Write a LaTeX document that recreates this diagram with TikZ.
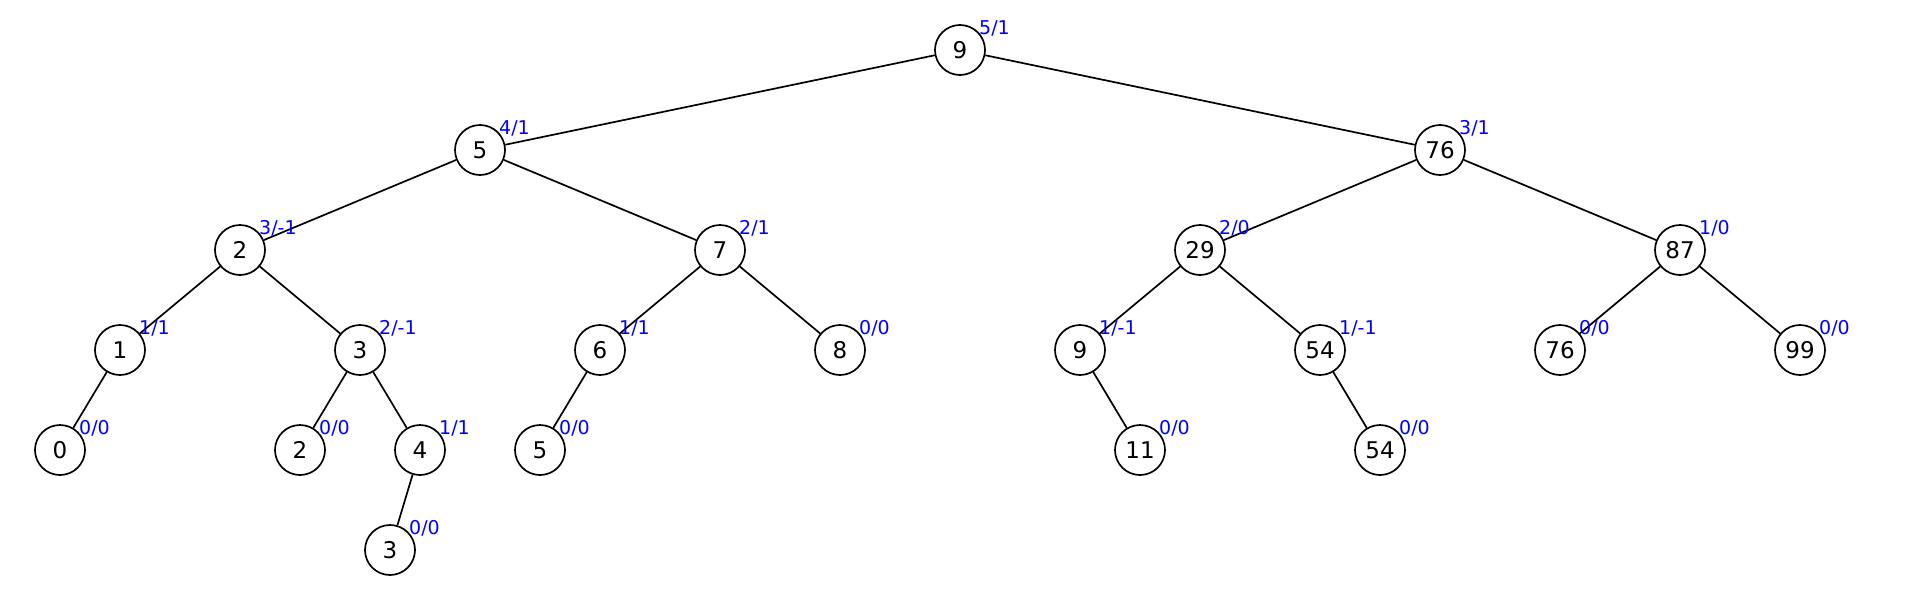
\documentclass[tikz,border=0pt]{standalone}
\usepackage{fontspec}
\setmainfont{DejaVu Sans}
\begin{document}
\begin{tikzpicture}[x=1pt,y=-1pt,
  tn/.style={circle,draw=black,line width=1.7pt,fill=white,minimum size=50pt,inner sep=0pt,font=\fontsize{23}{25}\selectfont},
  bal/.style={anchor=west,inner sep=0pt,text=blue,font=\fontsize{19}{21}\selectfont},
  edge/.style={draw=black,line width=1.7pt}]
\useasboundingbox (0,0) rectangle (1920,600);
% nodes
\node[tn] (n9) at (960,50) {9};
\node[tn] (n5) at (480,150) {5};
\node[tn] (n76) at (1440,150) {76};
\node[tn] (n2) at (240,250) {2};
\node[tn] (n7) at (720,250) {7};
\node[tn] (n29) at (1200,250) {29};
\node[tn] (n87) at (1680,250) {87};
\node[tn] (n1) at (120,350) {1};
\node[tn] (n3) at (360,350) {3};
\node[tn] (n6) at (600,350) {6};
\node[tn] (n8) at (840,350) {8};
\node[tn] (n9b) at (1080,350) {9};
\node[tn] (n54) at (1320,350) {54};
\node[tn] (n76b) at (1560,350) {76};
\node[tn] (n99) at (1800,350) {99};
\node[tn] (n0) at (60,450) {0};
\node[tn] (n2b) at (300,450) {2};
\node[tn] (n4) at (420,450) {4};
\node[tn] (n5b) at (540,450) {5};
\node[tn] (n11) at (1140,450) {11};
\node[tn] (n54b) at (1380,450) {54};
\node[tn] (n3b) at (390,550) {3};
% edges
\foreach \a/\b in {n9/n5,n9/n76,n5/n2,n5/n7,n76/n29,n76/n87,n2/n1,n2/n3,n7/n6,n7/n8,n29/n9b,n29/n54,n87/n76b,n87/n99,n1/n0,n3/n2b,n3/n4,n6/n5b,n9b/n11,n54/n54b,n4/n3b}
  \draw[edge] (\a) -- (\b);
% balance labels
\foreach \n/\t in {n9/5\slash 1,n5/4\slash 1,n76/3\slash 1,n2/3\slash -1,n7/2\slash 1,n29/2\slash 0,n87/1\slash 0,n1/1\slash 1,n3/2\slash -1,n6/1\slash 1,n8/0\slash 0,n9b/1\slash -1,n54/1\slash -1,n76b/0\slash 0,n99/0\slash 0,n0/0\slash 0,n2b/0\slash 0,n4/1\slash 1,n5b/0\slash 0,n11/0\slash 0,n54b/0\slash 0,n3b/0\slash 0}
  \node[bal] (l\n) at ([xshift=19pt,yshift=22pt]\n.center) {\t};
\end{tikzpicture}
\end{document}
